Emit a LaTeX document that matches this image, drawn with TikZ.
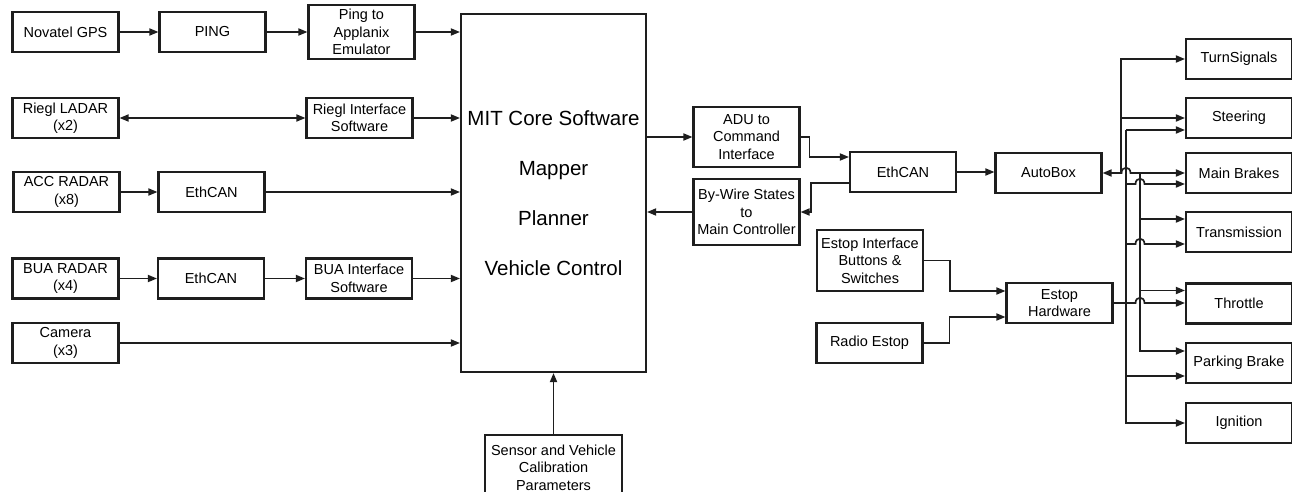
\documentclass[tikz,border=0pt]{standalone}
\usepackage{fontspec}
\setmainfont{Liberation Sans}
\usepackage{tikz}
\usetikzlibrary{arrows.meta,positioning,calc}
\definecolor{lineblack}{RGB}{30,30,30}

\begin{document}
\begin{tikzpicture}[
        x=1pt, y=-1pt,
        box/.style={rectangle, draw=lineblack, line width=2.1pt, minimum width=106pt, minimum height=40pt, inner sep=0pt, align=center, font=\fontsize{14.5}{17.5}\selectfont},
        corebox/.style={box, minimum width=185pt, minimum height=358pt, font=\fontsize{20.5}{50}\selectfont},
        arrow/.style={-{Triangle[length=9pt,width=7pt]}, line width=1.7pt, lineblack},
        dblarrow/.style={{Triangle[length=9pt,width=7pt]}-{Triangle[length=9pt,width=7pt]}, line width=1.7pt, lineblack}
    ]
        \useasboundingbox (0,0) rectangle (1292,492);

        % Sensors (left)
        \node[box] (gps) at (65.5,32) {Novatel GPS};
        \node[box] (ping) at (212.5,32) {PING};
        \node[box, minimum height=54pt] (pingapp) at (361.5,32) {Ping to\\Applanix\\Emulator};
        \node[box] (riegl) at (65.5,118) {Riegl LADAR\\(x2)};
        \node[box] (rieglsw) at (359.5,118) {Riegl Interface\\Software};
        \node[box] (acc) at (66.5,192) {ACC RADAR\\(x8)};
        \node[box] (accecan) at (211.5,192) {EthCAN};
        \node[box] (bua) at (65.5,278.5) {BUA RADAR\\(x4)};
        \node[box] (buaecan) at (211,278.5) {EthCAN};
        \node[box] (buasw) at (359,278.5) {BUA Interface\\Software};
        \node[box] (cam) at (65.5,343) {Camera\\(x3)};

        % Core software
        \node[corebox] (core) at (553.5,193) {MIT Core Software\\Mapper\\Planner\\Vehicle Control};
        \node[box, minimum width=137pt, minimum height=65pt] (calib) at (553.5,467.5) {Sensor and Vehicle\\Calibration\\Parameters};

        % Interfaces
        \node[box, minimum height=60pt] (adu) at (746.5,137) {ADU to\\Command\\Interface};
        \node[box, minimum height=66pt] (bywire) at (746.5,212) {By-Wire States\\to\\Main Controller};
        \node[box] (ethcan) at (903,172) {EthCAN};
        \node[box] (autobox) at (1048.5,173) {AutoBox};
        \node[box, minimum height=61pt] (estopif) at (870,260.5) {Estop Interface\\Buttons \&\\Switches};
        \node[box] (radio) at (869.5,343) {Radio Estop};
        \node[box] (estophw) at (1059.5,303) {Estop\\Hardware};

        % Actuators (right)
        \node[box] (turn) at (1239,59) {TurnSignals};
        \node[box] (steer) at (1239,118) {Steering};
        \node[box] (mbrake) at (1239,173) {Main Brakes};
        \node[box] (trans) at (1239,232) {Transmission};
        \node[box] (throttle) at (1239,303.5) {Throttle};
        \node[box] (pbrake) at (1239,363) {Parking Brake};
        \node[box] (ign) at (1239,423) {Ignition};

        % Bus junctions and arrow ends
        \coordinate (abus) at (1121,173);
        \coordinate (bbus) at (1140,173);
        \coordinate (ebus) at (1126,130);
        \coordinate (st2) at ($(steer.west)+(0,12)$);
        \coordinate (mb2) at ($(mbrake.west)+(0,11)$);
        \coordinate (tr1) at ($(trans.west)+(0,-13)$);
        \coordinate (tr2) at ($(trans.west)+(0,12)$);
        \coordinate (th1) at ($(throttle.west)+(0,-13)$);
        \coordinate (pb1) at ($(pbrake.west)+(0,-12)$);
        \coordinate (pb2) at ($(pbrake.west)+(0,13)$);

        % Sensors to core
        \draw[arrow] (gps) -- (ping);
        \draw[arrow] (ping) -- (pingapp);
        \draw[arrow] (pingapp) -- (pingapp -| core.west);
        \draw[dblarrow] (riegl) -- (rieglsw);
        \draw[arrow] (rieglsw) -- (rieglsw -| core.west);
        \draw[arrow] (acc) -- (accecan);
        \draw[arrow] (accecan) -- (accecan -| core.west);
        \draw[arrow] (bua) -- (buaecan);
        \draw[arrow] (buaecan) -- (buasw);
        \draw[arrow] (buasw) -- (buasw -| core.west);
        \draw[arrow] (cam) -- (cam -| core.west);
        \draw[arrow] (calib) -- (calib |- core.south);

        % Core to interfaces
        \draw[arrow] (core.east |- adu) -- (adu);
        \draw[arrow] (bywire) -- (bywire -| core.east);
        \draw[arrow] (adu.east) -- ++(9,0) |- ($(ethcan.west)+(0,-15)$);
        \draw[arrow] ($(ethcan.west)+(0,11)$) -- ++(-38,0) |- (bywire.east);
        \draw[arrow] (ethcan.east) -- (ethcan.east -| autobox.west);

        % Estop
        \draw[arrow] (estopif.east) -- ++(26,0) |- ($(estophw.west)+(0,-12)$);
        \draw[arrow] (radio.east) -- ++(26,0) |- ($(estophw.west)+(0,14)$);

        % AutoBox bus
        \draw[arrow] (abus) -- (autobox.east);
        \draw[arrow] (abus) |- (turn.west);
        \draw[arrow] (abus |- steer.west) -- (steer.west);
        \draw[arrow] (abus) -- ($(ebus |- abus)+(-4.5,0)$) .. controls +(0,-7) and +(0,-7) .. ($(ebus |- abus)+(4.5,0)$) -- (mbrake.west);
        \draw[arrow] (bbus) |- (pb1);
        \draw[arrow] (bbus |- tr1) -- (tr1);
        \draw[arrow] (bbus |- th1) -- (th1);

        % Estop bus
        \draw[arrow] (ebus) -- (st2);
        \draw[arrow] (ebus) |- (ign.west);
        \draw[arrow] (ebus |- mb2) -- ($(bbus |- mb2)+(-4.5,0)$) .. controls +(0,-7) and +(0,-7) .. ($(bbus |- mb2)+(4.5,0)$) -- (mb2);
        \draw[arrow] (ebus |- tr2) -- ($(bbus |- tr2)+(-4.5,0)$) .. controls +(0,-7) and +(0,-7) .. ($(bbus |- tr2)+(4.5,0)$) -- (tr2);
        \draw[arrow] (estophw.east) -- ($(bbus |- estophw.east)+(-4.5,0)$) .. controls +(0,-7) and +(0,-7) .. ($(bbus |- estophw.east)+(4.5,0)$) -- (throttle.west |- estophw.east);
        \draw[arrow] (ebus |- pb2) -- (pb2);

    \end{tikzpicture}
\end{document}
